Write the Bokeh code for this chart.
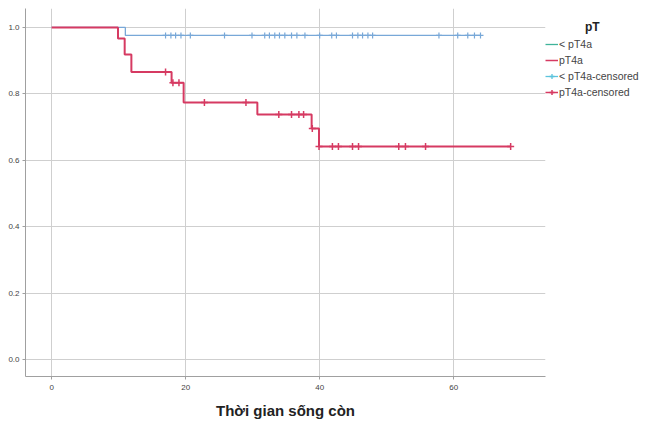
from bokeh.plotting import figure
from bokeh.models import Legend, LegendItem, FixedTicker, Range1d, NumeralTickFormatter
from bokeh.embed import file_html
from bokeh.resources import INLINE

# Kaplan-Meier step data
blue_t = [0, 11.0, 64.0]
blue_s = [1.0, 0.976, 0.976]
blue_cens_t = [17.0, 17.8, 18.5, 19.3, 20.7, 25.8, 29.9, 31.8, 32.5, 33.3, 34.0, 34.8,
               35.8, 36.6, 37.8, 40.0, 41.8, 42.5, 44.9, 45.7, 46.4, 47.2, 47.9,
               57.8, 60.6, 62.1, 63.1, 64.0]
blue_cens_s = [0.976] * len(blue_cens_t)

red_t = [0, 9.9, 10.9, 11.9, 17.9, 19.7, 30.7, 38.8, 39.9, 68.5]
red_s = [1.0, 0.967, 0.919, 0.866, 0.834, 0.774, 0.738, 0.696, 0.642, 0.642]
red_cens_t = [17.0, 18.1, 19.0, 22.8, 29.0, 33.9, 35.8, 36.9, 37.6, 38.9,
              39.9, 41.9, 42.8, 44.9, 45.8, 51.8, 52.8, 55.8, 68.5]
red_cens_s = [0.866, 0.834, 0.834, 0.774, 0.774, 0.738, 0.738, 0.738, 0.738, 0.696,
              0.642, 0.642, 0.642, 0.642, 0.642, 0.642, 0.642, 0.642, 0.642]

x_ticks = [0, 20, 40, 60]
y_ticks = [0.0, 0.2, 0.4, 0.6, 0.8, 1.0]
legend_labels = ["< pT4a", "pT4a", "< pT4a-censored", "pT4a-censored"]
x_title = "Thời gian sống còn"
legend_title = "pT"

BLUE = "#78a8d8"
RED = "#d63a62"
TEAL = "#3fb39a"
CYAN = "#5cc4dc"

p = figure(frame_width=520, frame_height=368, output_backend="svg", toolbar_location=None,
           x_range=Range1d(-3.9, 73.7), y_range=Range1d(-0.05, 1.057),
           min_border_left=25, min_border_right=119, min_border_top=8, min_border_bottom=46)
p.outline_line_color = None
p.background_fill_color = "white"

for ax in (p.xaxis[0], p.yaxis[0]):
    ax.axis_line_color = "#a0a0a0"
    ax.major_tick_line_color = "#a0a0a0"
    ax.major_tick_out = 3
    ax.major_tick_in = 0
    ax.minor_tick_line_color = None
    ax.major_label_text_font = "Liberation Sans"
    ax.major_label_text_font_size = "8px"
    ax.major_label_text_color = "#444444"
    ax.major_label_standoff = 3
p.xaxis.major_label_standoff = 5

p.xaxis.ticker = FixedTicker(ticks=x_ticks)
p.yaxis.ticker = FixedTicker(ticks=y_ticks)
p.yaxis.formatter = NumeralTickFormatter(format="0.0")
p.xaxis.axis_label = x_title
p.xaxis.axis_label_text_font = "Liberation Sans"
p.xaxis.axis_label_text_font_style = "bold"
p.xaxis.axis_label_text_font_size = "15px"
p.xaxis.axis_label_text_color = "#222222"
p.xaxis.axis_label_standoff = 9

p.grid.grid_line_color = "#cfcfcf"
p.grid.grid_line_width = 1

rb = p.step(blue_t, blue_s, mode="after", line_color=BLUE, line_width=1.3)
rr = p.step(red_t, red_s, mode="after", line_color=RED, line_width=2)
cb = p.scatter(blue_cens_t, blue_cens_s, marker="cross", size=6, line_color=BLUE, line_width=1.2)
cr = p.scatter(red_cens_t, red_cens_s, marker="cross", size=7, line_color=RED, line_width=1.5)

# legend-only renderers
nan = float("nan")
l1 = p.line([nan], [nan], line_color=TEAL, line_width=1.3)
l2 = p.line([nan], [nan], line_color=RED, line_width=1.5)
l3a = p.line([nan], [nan], line_color=CYAN, line_width=1.3)
l3b = p.scatter([nan], [nan], marker="cross", size=10, line_color=CYAN, line_width=1.3)
l4a = p.line([nan], [nan], line_color=RED, line_width=1.5)
l4b = p.scatter([nan], [nan], marker="cross", size=10, line_color=RED, line_width=1.5)

legend = Legend(items=[
    LegendItem(label=legend_labels[0], renderers=[l1]),
    LegendItem(label=legend_labels[1], renderers=[l2]),
    LegendItem(label=legend_labels[2], renderers=[l3a, l3b]),
    LegendItem(label=legend_labels[3], renderers=[l4a, l4b]),
], location=(0, 278))
# non-breaking spaces push the title to the centre of the legend
legend.title = "\u00a0" * 12 + legend_title
legend.title_text_font = "Liberation Sans"
legend.title_text_font_style = "bold"
legend.title_text_font_size = "12px"
legend.title_text_color = "#222222"
legend.title_standoff = 4
legend.label_text_font = "Liberation Sans"
legend.label_text_font_size = "10.5px"
legend.label_text_color = "#444444"
legend.label_height = 12
legend.glyph_height = 12
legend.glyph_width = 13
legend.label_standoff = 1
legend.spacing = 4
legend.padding = 2
legend.margin = 0
legend.border_line_color = None
legend.background_fill_alpha = 0
p.add_layout(legend, "right")

open("out.html", "w").write(file_html(p, INLINE))
